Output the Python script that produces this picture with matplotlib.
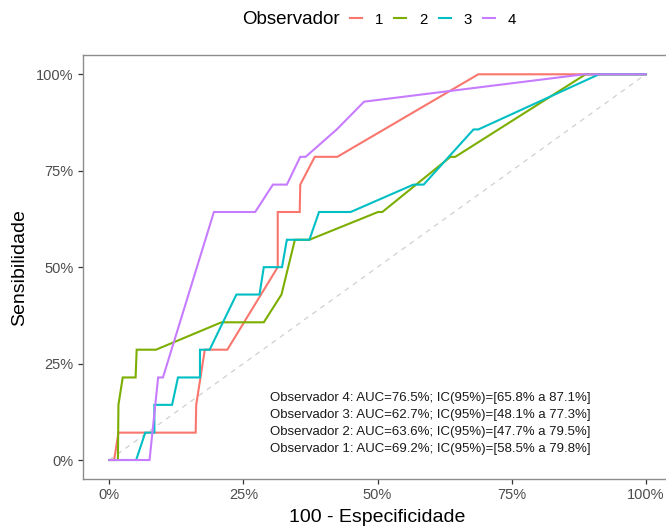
import matplotlib
matplotlib.use("Agg")
import matplotlib.pyplot as plt
from matplotlib.ticker import FuncFormatter

plt.rcParams['font.family'] = ['Liberation Sans', 'DejaVu Sans']

observers = ["1", "2", "3", "4"]
colors = ["#F8766D", "#7CAE00", "#00BFC4", "#C77CFF"]

# 1 - especificidade (%) and sensibilidade (%) for each observer
x1 = [0, 0.9, 1.7, 16.1, 16.2, 17.8, 22.0, 31.4, 31.4, 35.5, 35.6, 38.3, 42.5, 68.8, 100]
y1 = [0, 0, 7.1, 7.1, 14.3, 28.6, 28.6, 50.0, 64.3, 64.3, 71.4, 78.6, 78.6, 100, 100]

x2 = [0, 1.6, 1.7, 2.5, 4.9, 5.1, 8.7, 20.9, 28.8, 32.1, 34.6, 37.3, 50.1, 50.9, 63.6, 64.5, 88.8, 100]
y2 = [0, 0, 14.3, 21.4, 21.4, 28.6, 28.6, 35.7, 35.7, 42.9, 57.1, 57.1, 64.3, 64.3, 78.6, 78.6, 100, 100]

x3 = [0, 5.0, 6.7, 8.4, 8.4, 11.7, 12.8, 16.9, 16.9, 18.7, 23.7, 28.0, 28.8, 32.2, 33.1, 37.3,
      39.1, 45.0, 56.7, 58.6, 67.9, 68.8, 91.3, 100]
y3 = [0, 0, 7.1, 7.1, 14.3, 14.3, 21.4, 21.4, 28.6, 28.6, 42.9, 42.9, 50.0, 50.0, 57.1, 57.1,
      64.3, 64.3, 71.4, 71.4, 85.7, 85.7, 100, 100]

x4 = [0, 7.5, 9.1, 10.0, 19.5, 27.2, 30.5, 33.1, 35.6, 36.6, 42.4, 47.5, 88.5, 100]
y4 = [0, 0, 21.4, 21.4, 64.3, 64.3, 71.4, 71.4, 78.6, 78.6, 85.7, 92.9, 100, 100]

auc_labels = [
    "Observador 4: AUC=76.5%; IC(95%)=[65.8% a 87.1%]",
    "Observador 3: AUC=62.7%; IC(95%)=[48.1% a 77.3%]",
    "Observador 2: AUC=63.6%; IC(95%)=[47.7% a 79.5%]",
    "Observador 1: AUC=69.2%; IC(95%)=[58.5% a 79.8%]",
]

xticks = [0, 0.25, 0.5, 0.75, 1.0]
yticks = [0, 0.25, 0.5, 0.75, 1.0]

W, H = 666, 529
fig = plt.figure(figsize=(W / 100, H / 100), dpi=100)
left, right, top, bottom = 82.5, 672.5, 55.0, 479.3
ax = fig.add_axes([left / W, 1 - bottom / H, (right - left) / W, (bottom - top) / H])

ax.plot([0, 1], [0, 1], color="#d0d0d0", lw=0.9, ls=(0, (4, 4)), zorder=1)

series = [(x1, y1), (x2, y2), (x3, y3), (x4, y4)]
handles = []
for (xs, ys), c, name in zip(series, colors, observers):
    h, = ax.plot([v / 100 for v in xs], [v / 100 for v in ys], color=c, lw=1.5,
                 solid_joinstyle="miter", label=name, zorder=2)
    handles.append(h)

ax.set_xlim(-0.05, 1.05)
ax.set_ylim(-0.05, 1.05)
ax.set_xticks(xticks)
ax.set_yticks(yticks)
pct = FuncFormatter(lambda v, p: f"{v * 100:.0f}%")
ax.xaxis.set_major_formatter(pct)
ax.yaxis.set_major_formatter(pct)
ax.tick_params(axis="both", colors="#333333", length=3.5, width=0.9,
               labelsize=10.5, labelcolor="#4D4D4D", pad=3)
for s in ax.spines.values():
    s.set_color("#8c8c8c")
    s.set_linewidth(1.0)

ax.set_xlabel("100 - Especificidade", fontsize=14, color="black", labelpad=5)
ax.set_ylabel("Sensibilidade", fontsize=14, color="black", labelpad=6)

ys_txt = [0.160, 0.116, 0.072, 0.028]
for t, yy in zip(auc_labels, ys_txt):
    ax.text(0.30, yy, t, fontsize=9.5, color="#1a1a1a", ha="left", va="center")

fig.text(242 / W, 1 - 19.5 / H, "Observador", fontsize=13.5, ha="left", va="center")
fig.legend(handles=handles, labels=observers, loc="center left",
           bbox_to_anchor=(350 / W, 1 - 19.5 / H), ncol=4, frameon=False,
           fontsize=10.8, handlelength=0.8, handletextpad=0.85, columnspacing=0.75,
           borderpad=0, borderaxespad=0)

fig.savefig("out.png", dpi=100)
